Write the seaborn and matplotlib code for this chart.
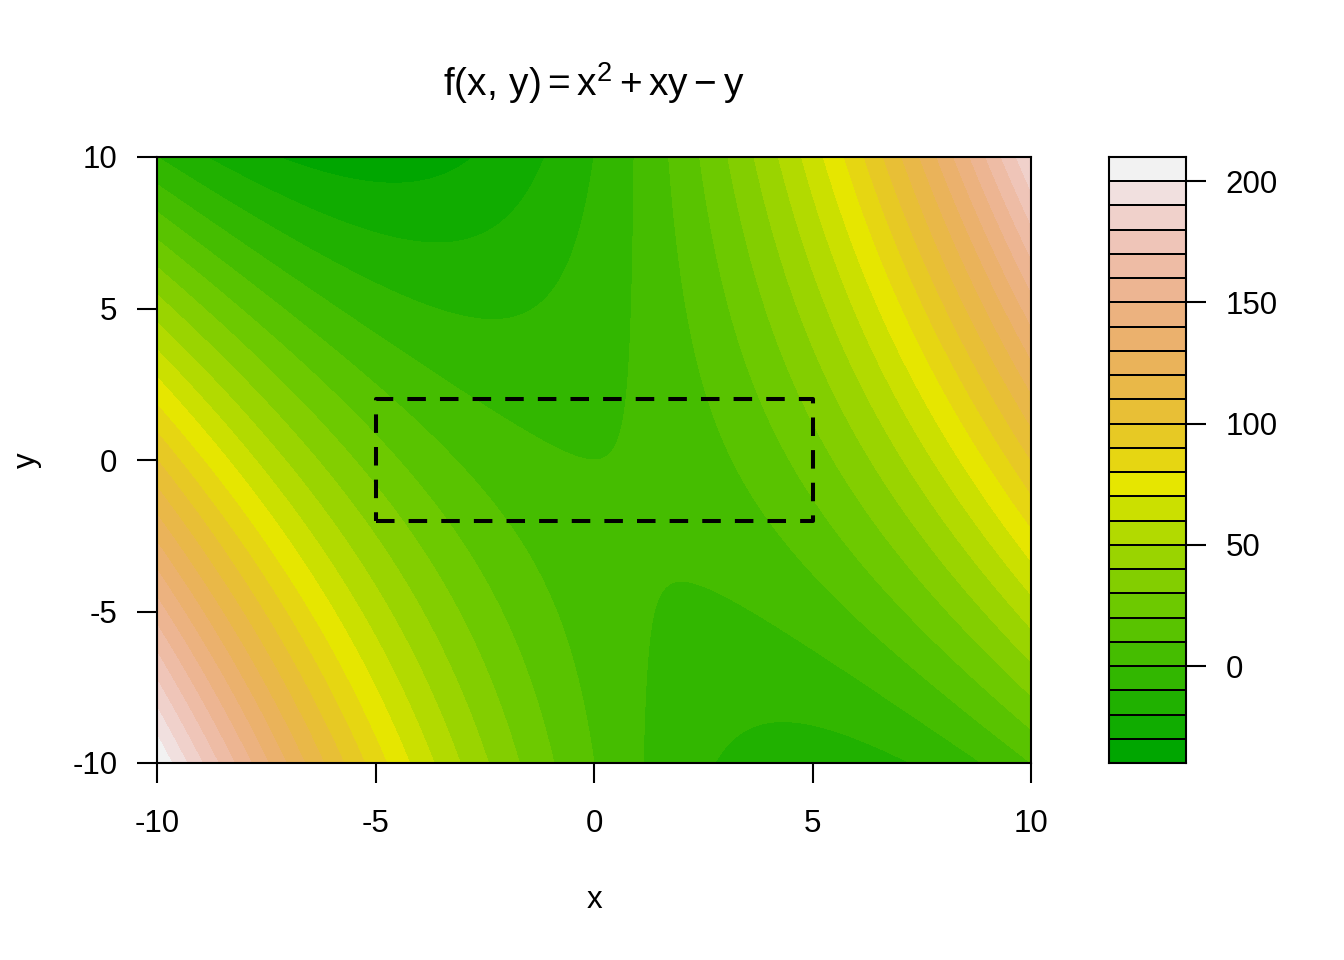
import colorsys

import numpy as np
import seaborn as sns
import matplotlib
matplotlib.use("Agg")
import matplotlib.pyplot as plt

# grid over which f(x, y) = x^2 + xy - y is evaluated
x_vals = np.linspace(-10, 10, 401)
y_vals = np.linspace(-10, 10, 401)
levels = np.arange(-40, 211, 10)
ticks = [-10, -5, 0, 5, 10]
bar_ticks = [0, 50, 100, 150, 200]
box_x = [-5, 5]
box_y = [-2, 2]


def terrain_colors(n):
    """R's terrain.colors(n)"""
    k = n // 2
    h1 = np.linspace(4 / 12, 2 / 12, k)
    s1 = np.linspace(1, 1, k)
    v1 = np.linspace(0.65, 0.9, k)
    h2 = np.linspace(2 / 12, 0, n - k + 1)[1:]
    s2 = np.linspace(1, 0, n - k + 1)[1:]
    v2 = np.linspace(0.9, 0.95, n - k + 1)[1:]
    h = np.concatenate([h1, h2])
    s = np.concatenate([s1, s2])
    v = np.concatenate([v1, v2])
    return [colorsys.hsv_to_rgb(a, b, c) for a, b, c in zip(h, s, v)]


sns.set_theme(style="white")
plt.rcParams["font.family"] = ["Liberation Sans", "DejaVu Sans"]
plt.rcParams["mathtext.fontset"] = "custom"
plt.rcParams["mathtext.rm"] = "Liberation Sans"
plt.rcParams["mathtext.it"] = "Liberation Sans"
plt.rcParams["text.color"] = "black"
plt.rcParams["axes.labelcolor"] = "black"
plt.rcParams["xtick.color"] = "black"
plt.rcParams["ytick.color"] = "black"

X, Y = np.meshgrid(x_vals, y_vals)
Z = X ** 2 + X * Y - Y
cols = terrain_colors(len(levels) - 1)

fig = plt.figure(figsize=(13.44, 9.6), dpi=100)
ax = fig.add_axes([157 / 1344, 1 - 763 / 960, 874 / 1344, 606 / 960])
cax = fig.add_axes([1109 / 1344, 1 - 763 / 960, 77 / 1344, 606 / 960])

ax.contourf(X, Y, Z, levels=levels, colors=cols, antialiased=False)
ax.plot([box_x[0], box_x[1], box_x[1], box_x[0], box_x[0]],
        [box_y[0], box_y[0], box_y[1], box_y[1], box_y[0]],
        color="black", lw=2.9, dashes=(4.6, 3.5))
ax.set_xlim(-10, 10)
ax.set_ylim(-10, 10)
ax.set_xticks(ticks)
ax.set_yticks(ticks)
ax.set_xticklabels([str(t) for t in ticks])
ax.set_yticklabels([str(t) for t in ticks])
ax.tick_params(axis="both", direction="out", length=14.4, width=1.5,
               color="black", labelsize=22.5, labelcolor="black",
               bottom=True, left=True)
ax.tick_params(axis="x", pad=19)
ax.tick_params(axis="y", pad=14)
for sp in ax.spines.values():
    sp.set_visible(True)
    sp.set_color("black")
    sp.set_linewidth(1.5)
ax.set_xlabel("x", fontsize=22.5, labelpad=33)
ax.set_ylabel("y", fontsize=22.5, labelpad=22)
ax.set_title(r"$\mathrm{f(x,\,y)} = \mathrm{x}^2 + \mathrm{xy} - \mathrm{y}$",
             fontsize=28, pad=44)

# colour key
cax.pcolormesh([0, 1], levels, np.array(levels[:-1]).reshape(-1, 1) + 5,
               cmap=matplotlib.colors.ListedColormap(cols),
               norm=matplotlib.colors.BoundaryNorm(levels, len(cols)),
               edgecolors="black", linewidth=1.2)
cax.set_xlim(0, 1)
cax.set_ylim(levels[0], levels[-1])
cax.set_xticks([])
cax.yaxis.tick_right()
cax.set_yticks(bar_ticks)
cax.set_yticklabels([str(t) for t in bar_ticks])
cax.tick_params(axis="y", direction="out", length=14.4, width=1.5,
                color="black", labelsize=22.5, labelcolor="black", pad=14,
                right=True, left=False)
for sp in cax.spines.values():
    sp.set_visible(True)
    sp.set_color("black")
    sp.set_linewidth(1.5)

fig.savefig("out.png", dpi=100, facecolor="white")
